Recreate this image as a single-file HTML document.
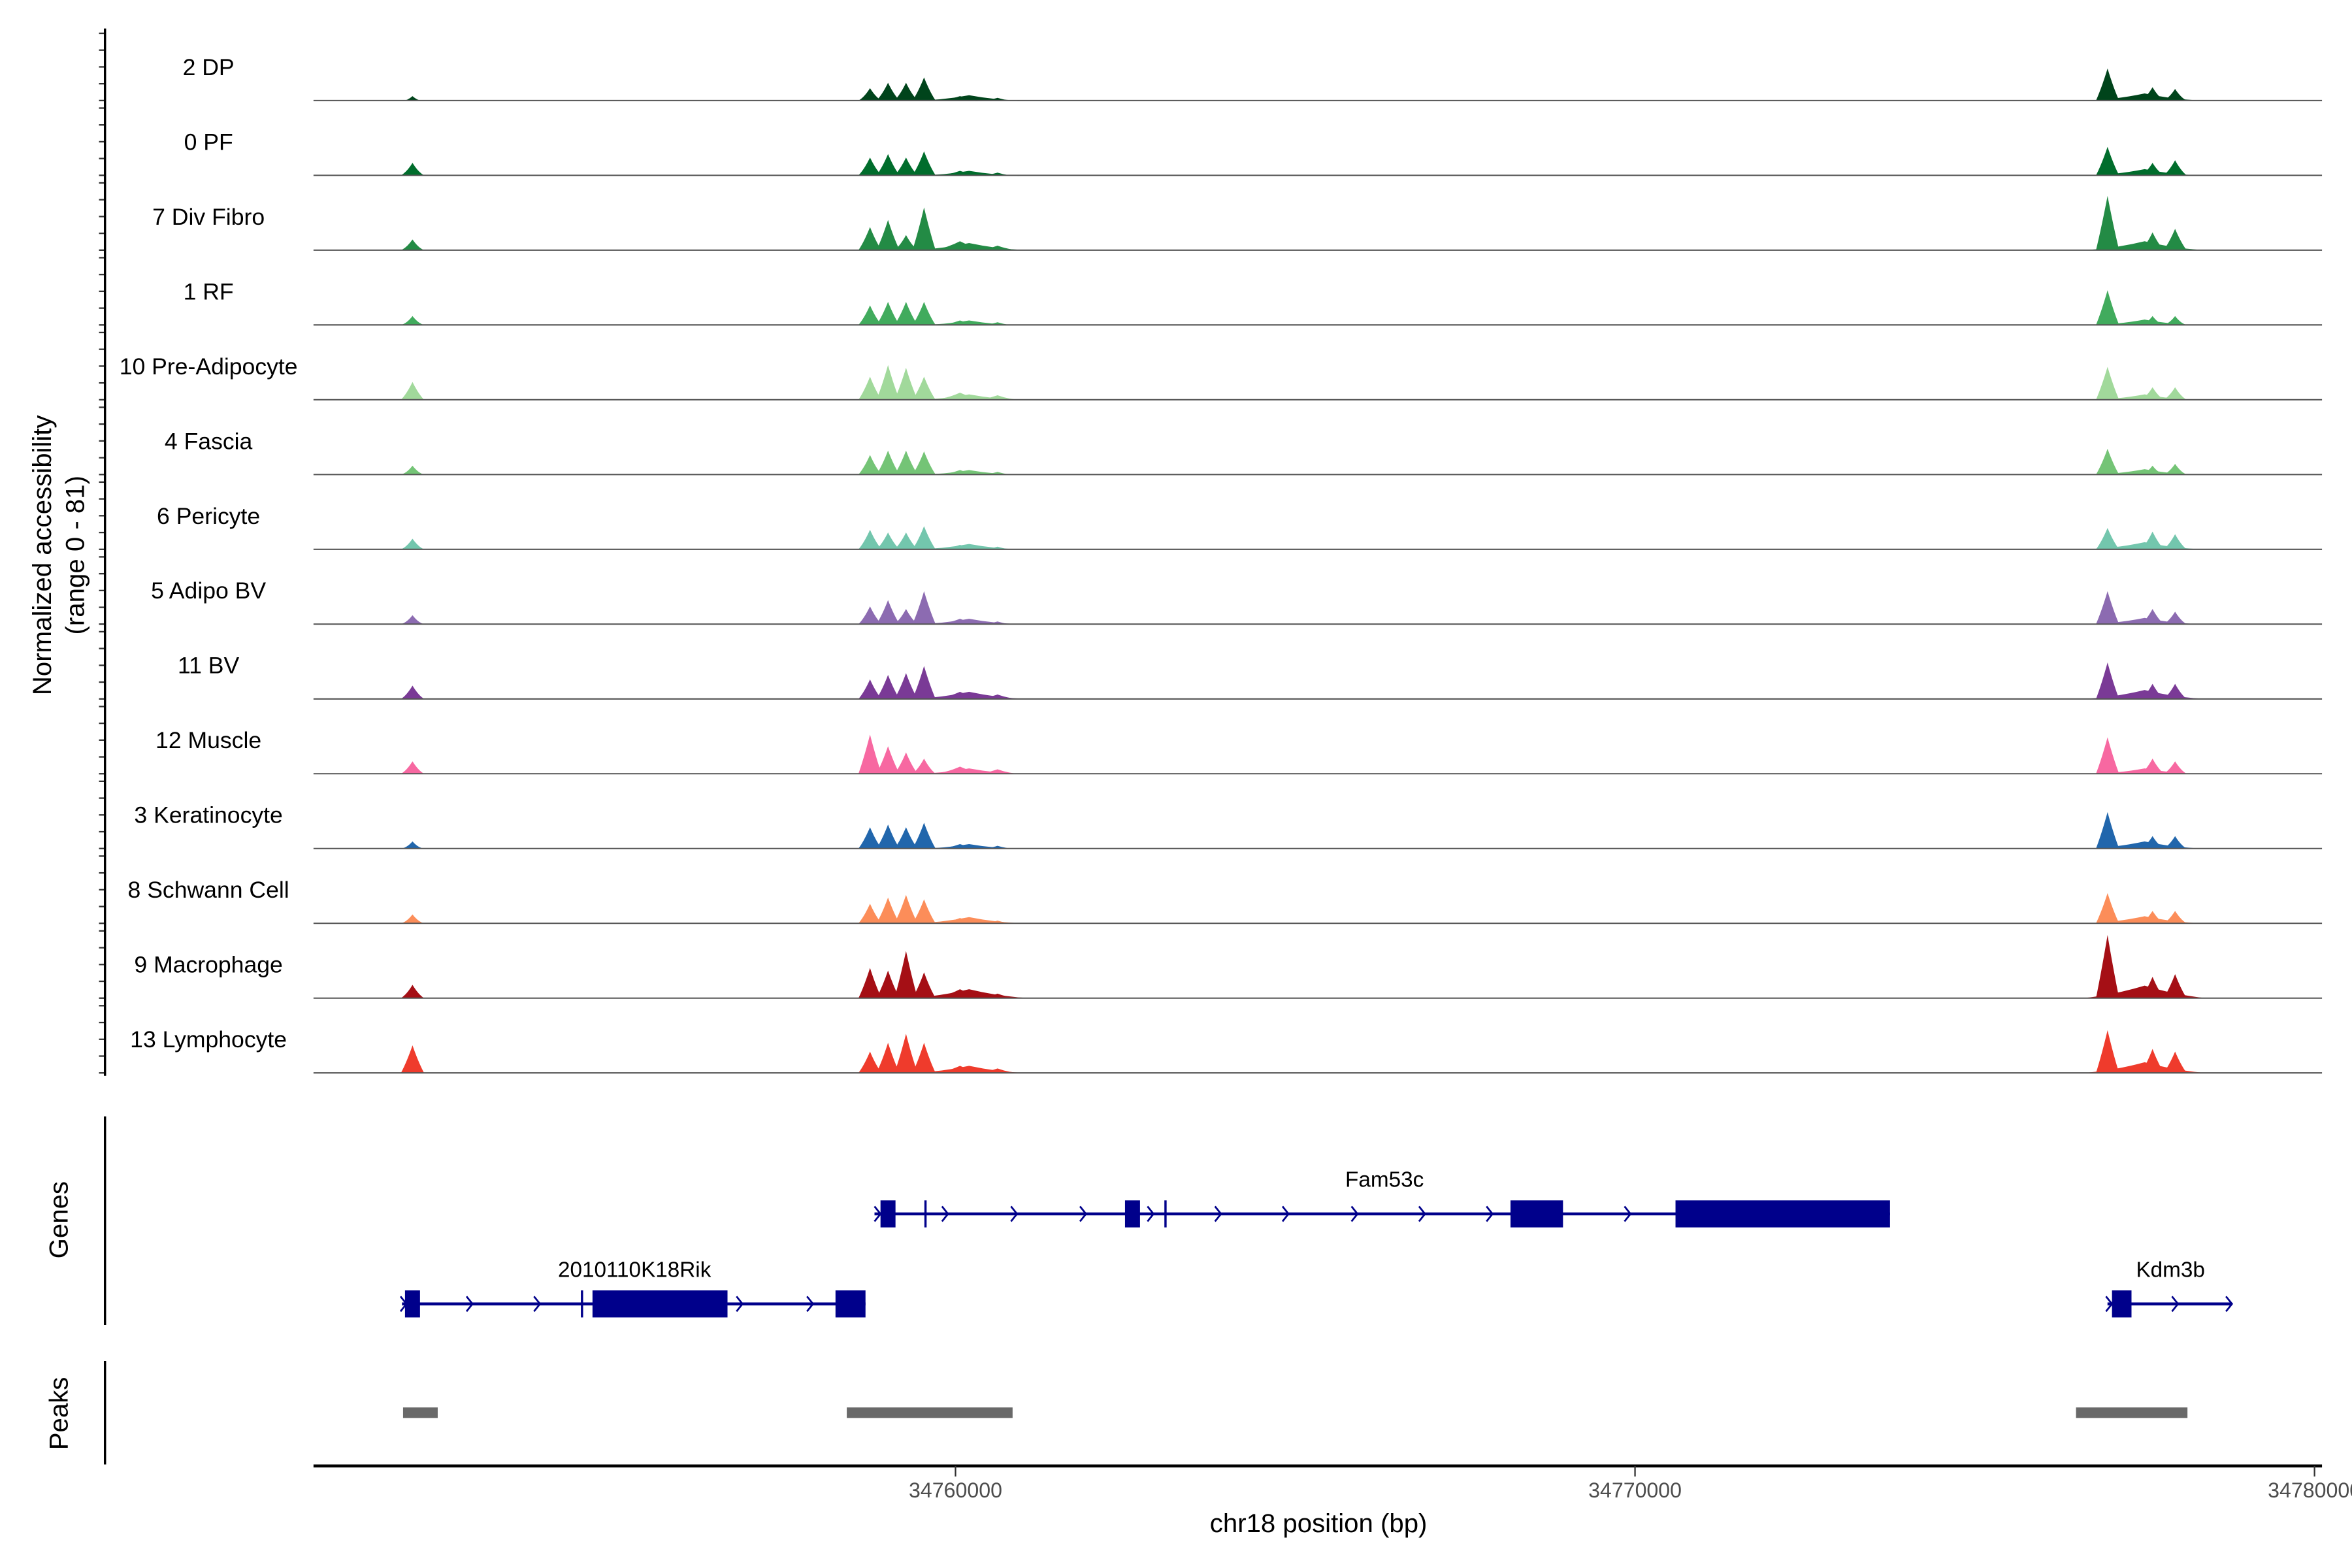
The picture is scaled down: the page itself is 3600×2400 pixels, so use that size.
<!DOCTYPE html>
<html><head><meta charset="utf-8"><style>
html,body{margin:0;padding:0;background:#fff}
svg{display:block}
text{font-family:"Liberation Sans",Arial,sans-serif}
</style></head><body>
<svg id="chart" xmlns="http://www.w3.org/2000/svg" width="3600" height="2400" viewBox="0 0 1568 1045" preserveAspectRatio="none">
<g id="tracks"></g>
<g id="yaxis"></g>
<text transform="translate(34,370) rotate(-90)" text-anchor="middle" font-size="17.5">Normalized accessibility</text>
<text transform="translate(56,370) rotate(-90)" text-anchor="middle" font-size="17.5">(range 0 - 81)</text>
<g id="genes"></g>
<g id="peaks"></g>
<g id="xaxis"></g>
<text x="879" y="1021" text-anchor="middle" font-size="17.5">chr18 position (bp)</text>
<text transform="translate(45,813) rotate(-90)" text-anchor="middle" font-size="17.5">Genes</text>
<text transform="translate(45,942) rotate(-90)" text-anchor="middle" font-size="17.5">Peaks</text>
</svg>
<script>
const trackNames=["2 DP","0 PF","7 Div Fibro","1 RF","10 Pre-Adipocyte","4 Fascia","6 Pericyte","5 Adipo BV","11 BV","12 Muscle","3 Keratinocyte","8 Schwann Cell","9 Macrophage","13 Lymphocyte"];
const trackColors=["#00441b","#006d2c","#238b45","#41ab5d","#a1d99b","#74c476","#73c6ad","#8c6bb1","#7a3a96","#f768a1","#2166ac","#fc8d59","#a50f15","#ef3b2c"];
const peakPositions=[34752009,34758742,34759007,34759272,34759537,34760066,34760618,34776954,34777616,34777948,34760200,34777500];
const broadPeak=[0,0,0,0,0,0,0,0,0,0,1,1];
const hDP=[5,14,20,20,26,5,3,36,15,13,6,8];
const hPF=[14,20,24,20,27,5,3,32,14,17,5,7];
const hDiv=[12,26,34,17,48,10,5,61,20,24,8,10];
const hRF=[10,22,26,26,26,5,3,39,10,10,5,6];
const hPre=[20,26,39,36,26,8,5,37,14,14,6,6];
const hFas=[10,22,27,27,26,5,3,29,10,12,5,6];
const hPer=[12,22,19,19,26,5,3,24,20,17,6,8];
const hABV=[10,20,27,17,37,6,3,37,17,14,6,7];
const hBV=[15,22,27,29,37,8,5,41,17,17,8,10];
const hMus=[14,44,31,24,17,8,5,41,17,14,6,6];
const hKer=[8,24,27,24,29,5,3,41,14,14,5,8];
const hSch=[10,22,29,32,27,6,3,34,14,14,7,8];
const hMac=[15,34,31,53,29,10,5,71,24,27,10,14];
const hLym=[31,24,34,44,34,8,5,48,27,24,8,12];
const trackHeights=[hDP,hPF,hDiv,hRF,hPre,hFas,hPer,hABV,hBV,hMus,hKer,hSch,hMac,hLym];
const xTicks=[34760000,34770000,34780000];
const xTickLabels=["34760000","34770000","34780000"];
const peakStarts=[34751870,34758400,34776490];
const peakEnds=[34752380,34760840,34778130];

const NS="http://www.w3.org/2000/svg";
const X0=209,X1=1548,BP0=34750552,BP1=34780110;
function xs(bp){return X0+(bp-BP0)/(BP1-BP0)*(X1-X0);}
const YMAX=81,TH=48;
function ys(v,base){return base-v/YMAX*TH;}
function el(tag,attrs,parent){const e=document.createElementNS(NS,tag);for(const k in attrs)e.setAttribute(k,attrs[k]);parent.appendChild(e);return e;}

const tracks=document.getElementById('tracks');
const yaxis=document.getElementById('yaxis');
const HW=170;
trackNames.forEach((nm,i)=>{
  const base=67+i*49.85;
  const g=el('g',{},tracks);
  
  
  const lab=el('text',{x:139,y:base-17,'text-anchor':'middle','font-size':15.5},g);
  lab.textContent=nm;
  
  
  const hs=trackHeights[i];
  peakPositions.forEach((p,j)=>{
    let w=(j===5||j===6)?HW*2.5:HW;
    if(broadPeak[j])w=900;
    const xa=xs(p-w),xm=xs(p),xb=xs(p+w),yt=ys(hs[j],base);
    const path=el('path',{d:`M${xa},${base} Q${(xa+xm)/2},${(base+yt)/2+2} ${xm},${yt} Q${(xm+xb)/2},${(base+yt)/2+2} ${xb},${base}Z`,fill:trackColors[i]},g);
    
    
  });
  const bl=el('line',{x1:X0,x2:X1,y1:base,y2:base,stroke:'#555','stroke-width':0.9},g);
  
  
  for(let k=0;k<5;k++){
    const t=el('line',{x1:66,x2:70,y1:base-k*11.2,y2:base-k*11.2,stroke:'#333','stroke-width':1},yaxis);
    
    
  }
});
el('line',{x1:70,x2:70,y1:19,y2:717,stroke:'#000','stroke-width':1.5},yaxis);

const genes=document.getElementById('genes');
el('line',{x1:70,x2:70,y1:744,y2:883,stroke:'#000','stroke-width':1.5},genes);
const gc='#00008b';
function geneLine(x1,x2,y){el('line',{x1,x2,y1:y,y2:y,stroke:gc,'stroke-width':2},genes);}
function exon(a,b,y){el('rect',{x:a,y:y-9,width:b-a,height:18,fill:gc},genes);}
function thin(x,y){el('line',{x1:x,x2:x,y1:y-9,y2:y+9,stroke:gc,'stroke-width':1.5},genes);}
function arr(x,y){el('path',{d:`M${x-2},${y-5} L${x+2},${y} L${x-2},${y+5}`,fill:'none',stroke:gc,'stroke-width':1.2},genes);}
geneLine(583,1260,809);
[[587,597],[750,760],[1007,1042],[1117,1260]].forEach(e=>exon(e[0],e[1],809));
[617,777].forEach(x=>thin(x,809));
[585,630,676,722,767,812,857,903,948,993,1085].forEach(x=>arr(x,809));
geneLine(268,577,869);
[[270,280],[395,485],[557,577]].forEach(e=>exon(e[0],e[1],869));
thin(388,869);
[269,313,358,493,540].forEach(x=>arr(x,869));
geneLine(1405,1488,869);
exon(1408,1421,869);
[1406,1450,1486].forEach(x=>arr(x,869));
[["Fam53c",923,791],["2010110K18Rik",423,851],["Kdm3b",1447,851]].forEach(t=>{
  const e=el('text',{x:t[1],y:t[2],'text-anchor':'middle','font-size':14.5},genes);e.textContent=t[0];
  
  
});

const peaks=document.getElementById('peaks');
el('line',{x1:70,x2:70,y1:907,y2:976,stroke:'#000','stroke-width':1.5},peaks);
peakStarts.forEach((s,i)=>{
  const r=el('rect',{x:xs(s),y:938,width:xs(peakEnds[i])-xs(s),height:7,fill:'#696969'},peaks);
  
  
});

const xaxis=document.getElementById('xaxis');
el('line',{x1:X0,x2:X1,y1:977,y2:977,stroke:'#000','stroke-width':2},xaxis);
xTicks.forEach((t,i)=>{
  const x=xs(t);
  el('line',{x1:x,x2:x,y1:977,y2:984,stroke:'#333','stroke-width':1},xaxis);
  const e=el('text',{x:x,y:998,'text-anchor':'middle','font-size':14,fill:'#4d4d4d'},xaxis);
  e.textContent=xTickLabels[i];
  
  
});
</script>
</body></html>
